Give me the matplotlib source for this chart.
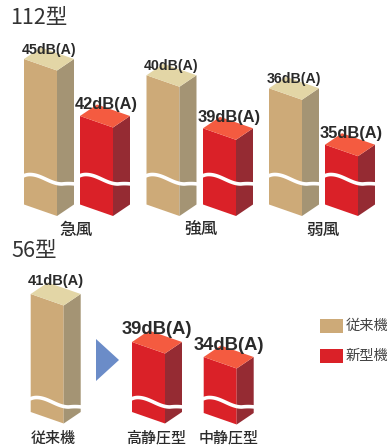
import numpy as np
import matplotlib
matplotlib.use("Agg")
import matplotlib.pyplot as plt

plt.rcParams['font.family'] = ['Noto Sans CJK JP', 'DejaVu Sans']

# ---- data
groups_112 = ["急風", "強風", "弱風"]
old_112 = [45, 40, 36]
new_112 = [42, 39, 35]
categories_56 = ["従来機", "高静圧型", "中静圧型"]
values_56 = [41, 39, 34]
legend_labels = ["従来機", "新型機"]
titles = ["112型", "56型"]

TAN = ("#cdaa78", "#a49474", "#e3d6a6")
RED = ("#da2128", "#952b33", "#f45b40")

fig = plt.figure(figsize=(3.87, 4.48), dpi=100)
ax = fig.add_axes([0, 0, 1, 1])
ax.set_xlim(0, 387)
ax.set_ylim(448, 0)
ax.axis("off")


def draw_bar(x, top, base, wave, colors):
    w, s, d = 33, 17, 11.5
    fr, si, to = colors
    ax.fill([x, x + w, x + w, x], [top, top + d, base + d, base], color=fr, lw=0, zorder=2)
    ax.fill([x + w, x + w + s, x + w + s, x + w], [top + d, top, base, base + d], color=si, lw=0, zorder=2)
    ax.fill([x, x + w, x + w + s, x + s], [top, top + d, top, top - d], color=to, lw=0, zorder=2)
    t = np.linspace(0, 1, 100)
    xs = x - 1 + (w + s + 2) * t
    # gentle S-curve: small rise at the left, long fall, flat at the right
    phase = np.clip((t - 0.13) / 0.62, 0, 1)
    ys = wave + 9.5 * (0.5 - 0.5 * np.cos(np.pi * phase))
    ys += 1.6 * np.clip((0.13 - t) / 0.13, 0, 1) ** 2
    ys -= 0.8 * np.clip((t - 0.75) / 0.25, 0, 1) * np.clip((1 - t) / 0.25, 0, 1) * 4 * 0.5
    ax.plot(xs, ys, color="white", lw=2.6, zorder=3, solid_capstyle="butt")


def label(x, y, value, size):
    ax.text(x, y, f"{value}dB(A)", ha="center", va="center", fontsize=size,
            fontweight="bold", color="#2a2a2a", family="Liberation Sans", zorder=5)


def old_y(v):
    return 59 + (45 - v) * 3.25


def new_y(v):
    return 116 + (42 - v) * 4.1


def y56(v):
    return 342 + (39 - v) * 3.0


old_x = [24, 146.5, 269]
new_x = [80, 203, 325]
group_label_x = [76, 201, 323]
for i, g in enumerate(groups_112):
    draw_bar(old_x[i], old_y(old_112[i]), 204.5, 174.5, TAN)
    draw_bar(new_x[i], new_y(new_112[i]), 204.5, 174.5, RED)
    label(old_x[i] + 25, old_y(old_112[i]) - 9, old_112[i], 10.2)
    label(new_x[i] + 26.5, new_y(new_112[i]) - 11, new_112[i], 11.8)
    ax.text(group_label_x[i], 230, g, ha="center", va="center", fontsize=12, fontweight="medium",
            color="#2a2a2a", zorder=5)

# 56 type
draw_bar(30.7, 294, 412, 397.5, TAN)
draw_bar(132, y56(values_56[1]), 412, 397.5, RED)
draw_bar(203.7, y56(values_56[2]), 413, 397.5, RED)
label(55.5, 281, values_56[0], 10.5)
label(157, 330, values_56[1], 13.2)
label(229, 346, values_56[2], 13.2)
for x, c in zip([53, 156, 229], categories_56):
    ax.text(x, 438, c, ha="center", va="center", fontsize=10.8, fontweight="medium",
            color="#2a2a2a", zorder=5)

ax.fill([96, 119, 96], [339, 360, 381], color="#6b8cc8", lw=0)

# legend
for yy, col, lab in zip([326, 356], [TAN[0], RED[0]], legend_labels):
    ax.fill([320, 343, 343, 320], [yy - 7, yy - 7, yy + 7, yy + 7], color=col, lw=0)
    ax.text(345.5, yy, lab, ha="left", va="center", fontsize=10.3, color="#444444", clip_on=True)

ax.text(10, 18, titles[0], ha="left", va="center", fontsize=15.5, color="#333333")
ax.text(11, 251, titles[1], ha="left", va="center", fontsize=15.5, color="#333333")

fig.savefig("out.png", dpi=100)
